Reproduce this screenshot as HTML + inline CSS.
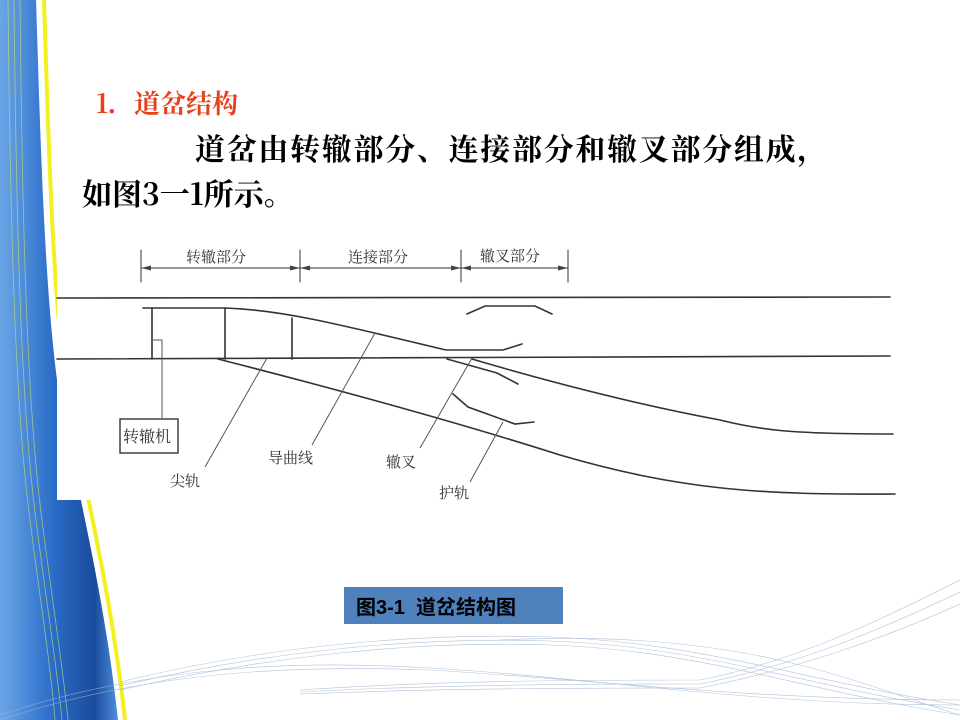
<!DOCTYPE html>
<html><head><meta charset="utf-8"><style>
html,body{margin:0;padding:0;background:#fff;}
body{width:960px;height:720px;position:relative;overflow:hidden;}
svg{position:absolute;left:0;top:0;}
.t{position:absolute;white-space:nowrap;font-family:"Noto Serif CJK SC","Liberation Serif",serif;font-weight:bold;}
</style></head><body>
<svg width="960" height="720" viewBox="0 0 960 720">
<defs>
<linearGradient id="bl" x1="0" y1="0" x2="1" y2="0">
<stop offset="0" stop-color="#6aa6e6"/><stop offset="0.45" stop-color="#2a6cc8"/><stop offset="0.8" stop-color="#1a4c9c"/><stop offset="1" stop-color="#4f8fdc"/>
</linearGradient>
</defs>
<path d="M0,0 L36,0 C40,120 44,300 60,400 C80,500 105,600 118,720 L0,720 Z" fill="url(#bl)"/>
<path d="M44,0 C48,120 52,300 68,400 C88,500 112,600 125,720" fill="none" stroke="#f4f020" stroke-width="4"/>
<path d="M39,0 C43,120 47,300 63,400 C83,500 107,600 120,720" fill="none" stroke="#fff" stroke-width="3" opacity="0.8"/>
<g fill="none" stroke="#c8e070" stroke-width="0.8" opacity="0.7">
<path d="M8,0 C10,200 14,400 30,520 C40,600 50,660 55,720"/>
<path d="M14,0 C16,200 20,400 36,520 C46,600 56,660 62,720"/>
<path d="M20,0 C22,200 26,400 42,520 C52,600 62,660 68,720"/>
</g>
<g fill="none" stroke="#9fb4d0" stroke-width="0.6" opacity="0.8">
<path d="M0,720 C150,670 300,665 430,670 C600,680 750,700 960,700"/>
<path d="M0,715 C150,665 300,660 430,668 C600,678 750,705 960,705"/>
<path d="M120,690 C250,660 400,640 550,645 C700,650 800,690 960,715"/>
<path d="M120,686 C250,655 400,636 550,641 C700,646 800,685 960,710"/>
<path d="M120,682 C250,650 400,632 550,637 C700,642 800,680 960,705"/>
<path d="M300,690 C450,680 600,680 700,680 C800,660 880,620 960,580"/>
<path d="M300,692 C450,684 600,684 700,684 C800,664 880,630 960,592"/>
<path d="M300,694 C450,688 600,688 700,688 C800,668 880,640 960,604"/>
<path d="M500,640 C600,635 700,640 800,665 C860,680 910,700 960,715"/>
</g>
<rect x="57" y="232" width="850" height="268" fill="#fff"/>
<g fill="none" stroke="#333" stroke-width="1.6" stroke-linecap="round">
<line x1="141" y1="250" x2="141" y2="282" stroke-width="1"/>
<line x1="300" y1="250" x2="300" y2="282" stroke-width="1"/>
<line x1="461" y1="250" x2="461" y2="282" stroke-width="1"/>
<line x1="568" y1="250" x2="568" y2="282" stroke-width="1"/>
<line x1="141" y1="268" x2="568" y2="268" stroke-width="1"/>
<line x1="57" y1="298" x2="890" y2="297"/>
<line x1="57" y1="359" x2="890" y2="356"/>
<path d="M143,308 L225,308 C280,310 330,322 446,350 L503,350 L522,344"/>
<line x1="152" y1="308" x2="152" y2="359"/>
<line x1="225" y1="308" x2="225" y2="359"/>
<line x1="292" y1="318" x2="292" y2="359"/>
<path d="M218,359 C320,385 450,420 560,455 C680,490 760,495 895,494"/>
<path d="M472,359 C560,385 640,405 720,420 C760,430 790,434 893,434"/>
<path d="M447,359 L497,373 L518,384"/>
<path d="M467,314 L485,306 L535,306 L552,314"/>
<path d="M453,394 L468,407 L515,424 L534,422"/>
</g>
<g fill="none" stroke="#555" stroke-width="1">
<polyline points="152,340 162,340 162,418"/>
<line x1="267" y1="358" x2="205" y2="467"/>
<line x1="375" y1="333" x2="312" y2="445"/>
<line x1="472" y1="358" x2="420" y2="448"/>
<line x1="503" y1="422" x2="470" y2="482"/>
</g>
<g fill="#444">
<path d="M141,268 l10,-2.5 v5z"/><path d="M300,268 l-10,-2.5 v5z"/>
<path d="M300,268 l10,-2.5 v5z"/><path d="M461,268 l-10,-2.5 v5z"/>
<path d="M461,268 l10,-2.5 v5z"/><path d="M568,268 l-10,-2.5 v5z"/>
</g>
<rect x="120" y="419" width="58" height="34" fill="#fff" stroke="#333" stroke-width="1.4"/>
<g font-family="Noto Serif CJK SC,Liberation Serif,serif" font-size="15" fill="#333">
<text x="186" y="262">转辙部分</text>
<text x="348" y="262">连接部分</text>
<text x="480" y="261">辙叉部分</text>
<text x="123" y="442" font-size="16">转辙机</text>
<text x="170" y="486">尖轨</text>
<text x="268" y="463">导曲线</text>
<text x="386" y="467">辙叉</text>
<text x="439" y="498">护轨</text>
</g>
<rect x="344" y="587" width="219" height="37" fill="#4f81bd"/>
<text x="356" y="614" font-family="Liberation Sans,Noto Sans CJK SC,sans-serif" font-weight="bold" font-size="20" fill="#000" xml:space="preserve">图3-1  道岔结构图</text>
</svg>
<div class="t" style="left:96px;top:84px;font-size:26px;color:#e8401c;">1．道岔结构</div>
<div class="t" style="left:195px;top:125px;font-size:30px;letter-spacing:1.7px;color:#000;">道岔由转辙部分、连接部分和辙叉部分组成，</div>
<div class="t" style="left:82px;top:170px;font-size:30px;color:#000;">如图3一1所示。</div>
</body></html>
